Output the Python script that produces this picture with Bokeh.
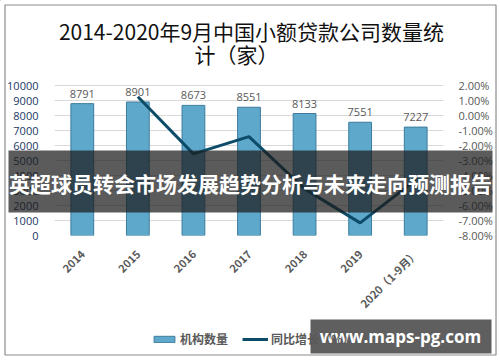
import math
from bokeh.plotting import figure
from bokeh.models import (Range1d, LinearAxis, ColumnDataSource, LabelSet,
                          Legend, LegendItem, FixedTicker, PrintfTickFormatter, FactorRange)
from bokeh.core.properties import value
from bokeh.embed import file_html
from bokeh.resources import INLINE

years = ["2014", "2015", "2016", "2017", "2018", "2019", "2020（1-9月）"]
counts = [8791, 8901, 8673, 8551, 8133, 7551, 7227]
growth = [float("nan"), 1.25, -2.56, -1.41, -4.89, -7.16, -4.29]
left_ticks = [0, 1000, 2000, 3000, 4000, 5000, 6000, 7000, 8000, 9000, 10000]
right_ticks = [-8, -7, -6, -5, -4, -3, -2, -1, 0, 1, 2]
series_names = ["机构数量", "同比增长（%）"]
title_lines = ["2014-2020年9月中国小额贷款公司数量统", "计（家）"]
banner = "英超球员转会市场发展趋势分析与未来走向预测报告"
watermark = "www.maps-pg.com"

CJK = "Noto Sans CJK SC"
BAR_FILL = "#5ea8cc"
BAR_LINE = "#3d7c9c"
LINE_COLOR = "#0d4c68"

src = ColumnDataSource(dict(year=years, count=counts, growth=growth,
                            label=[str(c) for c in counts]))

# ---------------- main chart ----------------
p = figure(x_range=FactorRange(*years), y_range=Range1d(0, 10400),
           frame_width=389, frame_height=156, output_backend="svg", toolbar_location=None,
           min_border_left=54, min_border_right=57, min_border_top=79, min_border_bottom=127,
           outline_line_color=None, background_fill_color="white", border_fill_color="white")
p.extra_y_ranges = {"pct": Range1d(-8, 2.4)}

p.yaxis.ticker = FixedTicker(ticks=left_ticks)
p.yaxis.axis_line_color = None
p.yaxis.major_tick_line_color = None
p.yaxis.minor_tick_line_color = None
p.yaxis.major_label_text_font = "Open Sans"
p.yaxis.major_label_text_font_size = "11px"
p.yaxis.major_label_text_color = "#203864"
p.yaxis.major_label_standoff = 10

ra = LinearAxis(y_range_name="pct", ticker=FixedTicker(ticks=right_ticks),
                formatter=PrintfTickFormatter(format="%.2f%%"))
ra.axis_line_color = None
ra.major_tick_line_color = None
ra.minor_tick_line_color = None
ra.major_label_text_font = "Open Sans"
ra.major_label_text_font_size = "11px"
ra.major_label_text_color = "#595959"
ra.major_label_standoff = 9
p.add_layout(ra, "right")

p.xaxis.axis_line_color = None
p.xaxis.major_tick_line_color = None
p.xaxis.minor_tick_line_color = None
p.xaxis.major_label_orientation = math.pi / 4
p.xaxis.major_label_text_font = CJK
p.xaxis.major_label_text_font_style = "bold"
p.xaxis.major_label_text_font_size = "11px"
p.xaxis.major_label_text_color = "#595959"
p.xaxis.major_label_standoff = 10

p.xgrid.grid_line_color = None
p.ygrid.ticker = FixedTicker(ticks=left_ticks)
p.ygrid.grid_line_color = "#d9d9d9"

p.vbar(x="year", top="count", width=0.41, source=src,
       fill_color=BAR_FILL, line_color=BAR_LINE, line_width=1)
p.line(x="year", y="growth", y_range_name="pct", source=src,
       line_color=LINE_COLOR, line_width=3)

p.add_layout(LabelSet(x="year", y="count", text="label", source=src, y_offset=6,
                      text_align="center", text_baseline="bottom",
                      text_font=value("Open Sans"), text_font_size="11px",
                      text_color="#595959"))

# ---------------- overlay (title, legend, banner, watermark, border) ----------------
ov = figure(x_range=Range1d(0, 500), y_range=Range1d(362, 0),
            frame_width=500, frame_height=362, output_backend="svg", toolbar_location=None,
            min_border=0, x_axis_location=None, y_axis_location=None,
            outline_line_color=None, background_fill_alpha=0, border_fill_alpha=0,
            styles={"position": "absolute", "left": "0px", "top": "0px"})
ov.grid.visible = False

ov.quad(left=[4.5], right=[495.5], top=[4.5], bottom=[354.5],
        fill_alpha=0, line_color="#8c8c8c", line_width=1.2)

ov.text(x=[251, 236], y=[30, 53], text=title_lines, text_align="center",
        text_baseline="middle", text_font=value(CJK), text_font_size="21px",
        text_color="#111111")

# legend swatches (same styles as the series in the main chart), drawn off-canvas
lg_bar = ov.vbar(x=[-1000], top=[-1000], bottom=[-1001], width=1,
                 fill_color=BAR_FILL, line_color=BAR_LINE)
lg_line = ov.line(x=[-1000, -999], y=[-1000, -1000], line_color=LINE_COLOR, line_width=3)
legend = Legend(items=[LegendItem(label=series_names[0], renderers=[lg_bar]),
                       LegendItem(label=series_names[1], renderers=[lg_line])],
                orientation="horizontal", location=(151, 15),
                label_text_font=CJK, label_text_font_size="12px",
                label_text_font_style="bold", label_text_color="#595959",
                glyph_width=26, glyph_height=8, spacing=14, label_standoff=3,
                border_line_color=None, background_fill_alpha=0, margin=0, padding=0)
ov.add_layout(legend, "center")

ov.quad(left=[8], right=[492], top=[150], bottom=[212],
        fill_color="#1c1c1c", fill_alpha=0.72, line_color=None)
ov.text(x=[250], y=[182], text=[banner], text_align="center", text_baseline="middle",
        text_font=value(CJK), text_font_size="21px", text_font_style="bold",
        text_color="white")

ov.quad(left=[310], right=[491], top=[319], bottom=[353],
        fill_color="#5f5f5f", fill_alpha=1.0, line_color=None)
ov.text(x=[400], y=[336], text=[watermark], text_align="center", text_baseline="middle",
        text_font=value("Open Sans"), text_font_size="17px", text_font_style="bold",
        text_color="white")

open("out.html", "w").write(file_html((p, ov), INLINE))
